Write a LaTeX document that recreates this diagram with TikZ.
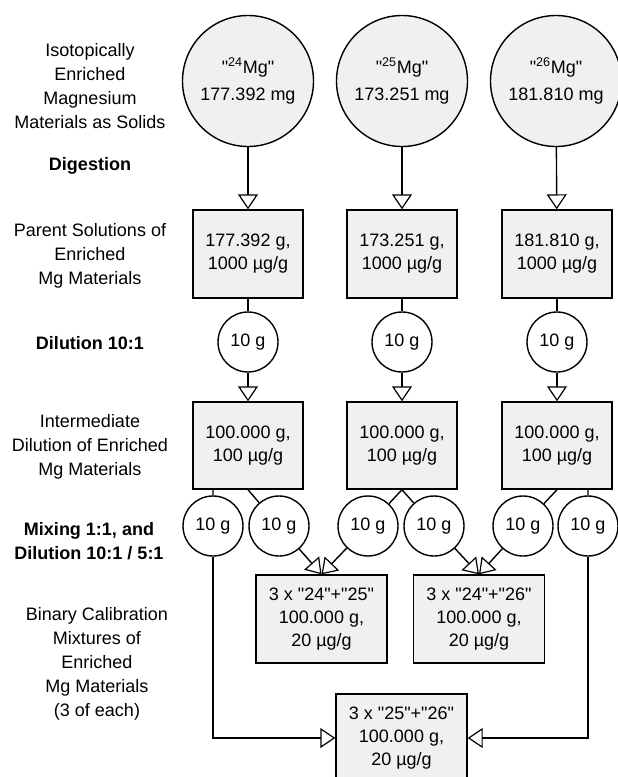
\documentclass[tikz,border=0pt]{standalone}
\usepackage{fontspec}
\setmainfont{Liberation Sans}[Ligatures=TeXOff]
\usetikzlibrary{arrows.meta}

\begin{document}
\begin{tikzpicture}[x=1pt,y=-1pt,line width=1.4pt,
    every node/.style={font=\fontsize{18}{23}\selectfont,align=center,inner sep=0pt},
    stage/.style={font=\fontsize{18}{24}\selectfont},
    stock/.style={draw,circle,fill=gray!12,minimum size=131pt},
    solbox/.style={draw,rectangle,fill=gray!12,minimum width=110pt,minimum height=88pt},
    mixbox/.style={solbox,minimum width=131pt},
    aliquot/.style={draw,circle,fill=white,minimum size=60pt},
    flow/.style={-{Triangle[open,length=15pt,width=20pt,line width=1.2pt]}}]
  \useasboundingbox (0,0) rectangle (618,777);
  % stage labels
  \node[stage] (l1) at (90,86) {Isotopically\\Enriched\\Magnesium\\Materials as Solids};
  \node[stage] (l2) at (90,166) {\bfseries Digestion};
  \node[stage] (l3) at (90,256) {Parent Solutions of\\Enriched\\Mg Materials};
  \node[stage] (l4) at (90,343) {\bfseries Dilution 10:1};
  \node[stage] (l5) at (90,447) {Intermediate\\Dilution of Enriched\\Mg Materials};
  \node[stage] (l6) at (89,541) {\bfseries Mixing 1:1, and\\\bfseries Dilution 10:1 / 5:1};
  \node[stage] (l7) at (97,664) {Binary Calibration\\Mixtures of\\Enriched\\Mg Materials\\(3 of each)};
  % solids
  \node[stock] (s24) at (248,81) {"\textsuperscript{24}Mg"\\[4pt]177.392 mg};
  \node[stock] (s25) at (402,81) {"\textsuperscript{25}Mg"\\[4pt]173.251 mg};
  \node[stock] (s26) at (556,81) {"\textsuperscript{26}Mg"\\[4pt]181.810 mg};
  % parent solutions
  \node[solbox] (p24) at (248,254) {177.392 g,\\1000 µg/g};
  \node[solbox] (p25) at (402,254) {173.251 g,\\1000 µg/g};
  \node[solbox] (p26) at (557,254) {181.810 g,\\1000 µg/g};
  % dilution 10:1
  \node[aliquot] (d24) at (248,342) {10 g};
  \node[aliquot] (d25) at (402,342) {10 g};
  \node[aliquot] (d26) at (557,342) {10 g};
  % intermediate dilutions
  \node[solbox,minimum height=87pt] (i24) at (248,445.5) {100.000 g,\\100 µg/g};
  \node[solbox,minimum height=87pt] (i25) at (402,445.5) {100.000 g,\\100 µg/g};
  \node[solbox,minimum height=87pt] (i26) at (557,445.5) {100.000 g,\\100 µg/g};
  % aliquots for mixing
  \node[aliquot] (a1) at (213,526) {10 g};
  \node[aliquot] (a2) at (279,526) {10 g};
  \node[aliquot] (a3) at (368,526) {10 g};
  \node[aliquot] (a4) at (434,526) {10 g};
  \node[aliquot] (a5) at (523,526) {10 g};
  \node[aliquot] (a6) at (588,526) {10 g};
  % binary mixtures
  \node[mixbox] (m2425) at (321.5,619) {3 x "24"+"25"\\100.000 g,\\20 µg/g};
  \node[mixbox] (m2426) at (479,619) {3 x "24"+"26"\\100.000 g,\\20 µg/g};
  \node[mixbox] (m2526) at (401.5,738) {3 x "25"+"26"\\100.000 g,\\20 µg/g};
  % connectors
  \draw[flow] (s24) -- (p24);
  \draw[flow] (s25) -- (p25);
  \draw[flow] (s26) -- (p26);
  \draw
    (p24) -- (d24)
    (p25) -- (d25)
    (p26) -- (d26);
  \draw[flow] (d24) -- (i24);
  \draw[flow] (d25) -- (i25);
  \draw[flow] (d26) -- (i26);
  \draw
    (i24.south -| a1) -- (a1)
    (i24.south) -- (a2)
    (i25.south) -- (a3)
    (i25.south) -- (a4)
    (i26.south) -- (a5)
    (i26.south -| a6) -- (a6);
  \draw[flow] (a2) -- (m2425.north);
  \draw[flow] (a3) -- (m2425.north);
  \draw[flow] (a4) -- (m2426.north);
  \draw[flow] (a5) -- (m2426.north);
  \draw[flow] (a1.south) |- (m2526.west);
  \draw[flow] (a6.south) |- (m2526.east);
\end{tikzpicture}
\end{document}
